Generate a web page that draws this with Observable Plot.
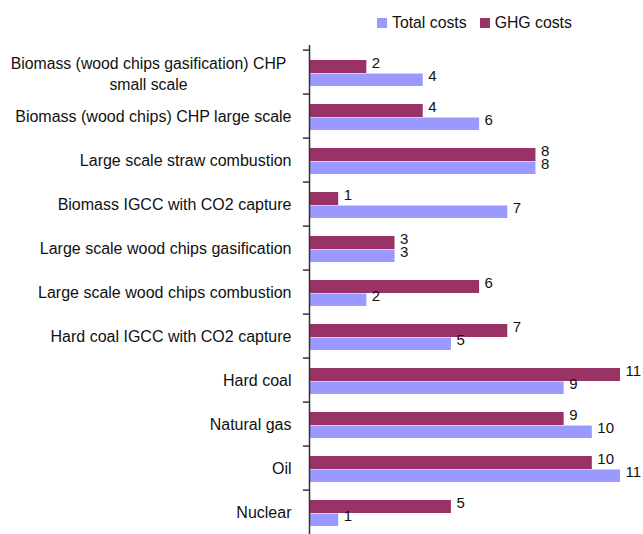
<!DOCTYPE html>
<html>
<head>
<meta charset="utf-8">
<script src="https://cdn.jsdelivr.net/npm/d3@7"></script>
<script src="https://cdn.jsdelivr.net/npm/@observablehq/plot@0.6"></script>
<style>
  html, body { margin: 0; padding: 0; overflow: hidden; background: #fff; }
  body { width: 643px; height: 534px; font-family: "Liberation Sans", Arial, sans-serif; color: #111; }
  #legend { height: 45px; box-sizing: border-box; padding-left: 377px; padding-top: 1px;
            display: flex; align-items: center; font-size: 15.8px; }
  .item { display: flex; align-items: center; margin-right: 13px; }
  .swatch { width: 10px; height: 10px; margin-right: 5px; }
</style>
</head>
<body>
<div id="legend"></div>
<div id="chart"></div>
<script>
// Power generation options, top to bottom
const categories = [
  "Biomass (wood chips gasification) CHP\nsmall scale",
  "Biomass (wood chips) CHP large scale",
  "Large scale straw combustion",
  "Biomass IGCC with CO2 capture",
  "Large scale wood chips gasification",
  "Large scale wood chips combustion",
  "Hard coal IGCC with CO2 capture",
  "Hard coal",
  "Natural gas",
  "Oil",
  "Nuclear"
];
const totalCosts = [4, 6, 8, 7, 3, 2, 5, 9, 10, 11, 1];
const ghgCosts   = [2, 4, 8, 1, 3, 6, 7, 11, 9, 10, 5];

const seriesNames  = ["Total costs", "GHG costs"];
const seriesColors = ["#9999ff", "#993366"];

const rows = categories.map((category, i) => ({category, total: totalCosts[i], ghg: ghgCosts[i]}));
const multiLine = categories.filter(c => c.includes("\n"));
const singleLine = categories.filter(c => !c.includes("\n"));

// Legend above the plot
const legend = d3.select("#legend");
seriesNames.forEach((name, i) => {
  const item = legend.append("div").attr("class", "item");
  item.append("div").attr("class", "swatch").style("background", seriesColors[i]);
  item.append("span").text(name);
});

const font = "'Liberation Sans', Arial, sans-serif";

const chart = Plot.plot({
  width: 643,
  height: 493,
  marginLeft: 310,
  marginRight: 23,
  marginTop: 0,
  marginBottom: 0,
  style: {fontFamily: font, color: "#111", background: "#fff", overflow: "visible"},
  x: {domain: [0, 11], axis: null},
  y: {domain: categories, padding: 0, axis: null},
  marks: [
    // GHG costs (upper bar) and total costs (lower bar) in each band
    Plot.barX(rows, {y: "category", x: "ghg", fill: seriesColors[1], insetTop: 10, insetBottom: 21}),
    Plot.barX(rows, {y: "category", x: "total", fill: seriesColors[0], insetTop: 23.5, insetBottom: 8}),
    // value labels at the bar ends
    Plot.text(rows, {y: "category", x: "ghg", text: d => String(d.ghg), dx: 5, dy: -9,
                     textAnchor: "start", fontSize: 15, fill: "#111"}),
    Plot.text(rows, {y: "category", x: "total", text: d => String(d.total), dx: 5, dy: 4,
                     textAnchor: "start", fontSize: 15, fill: "#111"}),
    // category axis: line and ticks between bands
    Plot.ruleX([0], {stroke: "#333", strokeWidth: 1.5, dx: -1}),
    Plot.axisY({tickSize: 6, text: null, label: null, dy: -22.4, dx: -1, stroke: "#333", strokeWidth: 1.5}),
    // category labels
    Plot.text(singleLine, {y: d => d, x: 0, text: d => d, dx: -19, textAnchor: "end",
                           fontSize: 16, fill: "#111"}),
    Plot.text(multiLine, {y: d => d, x: 0, text: d => d, dx: -162, textAnchor: "middle",
                          lineHeight: 1.33, fontSize: 15.8, fill: "#111"})
  ]
});
document.getElementById("chart").appendChild(chart);
</script>
</body>
</html>
